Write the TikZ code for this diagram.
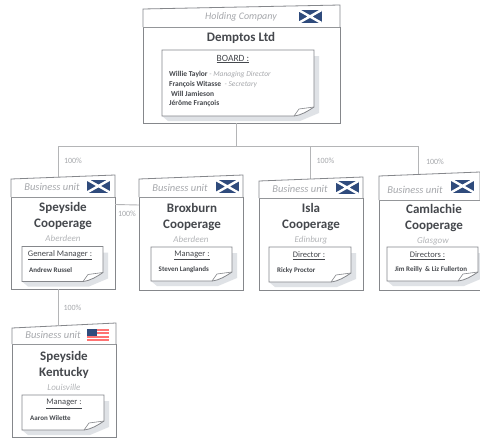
\documentclass[tikz,border=0pt]{standalone}
\usepackage{fontspec}
\setmainfont{Carlito}
\usepackage{tikz}
\usetikzlibrary{positioning}

\definecolor{navy}{HTML}{2F4B7C}
\definecolor{inktext}{HTML}{45484D}
\definecolor{soft}{HTML}{A6A8AC}
\definecolor{edgeline}{HTML}{85878B}
\definecolor{linkline}{HTML}{B4B5B7}
\definecolor{noteshade}{HTML}{DFE2E6}

\tikzset{
  card/.style={draw=edgeline,line width=0.8pt,fill=white,inner sep=0pt,outer sep=0pt},
  notebox/.style={inner sep=0pt,outer sep=0pt},
  link/.style={draw=linkline,line width=0.9pt},
  headtxt/.style={text=soft,font=\fontsize{10.5}{12}\selectfont\itshape,inner sep=0pt},
  title/.style={text=inktext,font=\fontsize{13}{16}\selectfont\bfseries,align=center,inner sep=0pt},
  city/.style={text=soft!85,font=\fontsize{9}{11}\selectfont\itshape,inner sep=0pt},
  notehead/.style={text=inktext,font=\fontsize{8.5}{10}\selectfont,inner sep=0pt},
  who/.style={text=inktext,font=\fontsize{7}{9}\selectfont\bfseries,inner sep=0pt},
  pct/.style={text=soft,font=\fontsize{8}{10}\selectfont,inner sep=0pt},
  flagscot/.pic={
    \fill[navy] (-11.5,-6.5) rectangle (11.5,6.5);
    \draw[white,line width=2.4pt] (-11.5,-6.5) -- (11.5,6.5) (-11.5,6.5) -- (11.5,-6.5);
  },
  flagusa/.pic={
    \fill[white] (-11,-6) rectangle (11,6);
    \foreach \s in {0,2,4,6}
      \fill[red!55!white] (-11,-6+\s*1.72) rectangle (11,-6+\s*1.72+1.72);
    \fill[navy] (-11,-6) rectangle (-1,0.5);
  }
}

% tab above a card: left rise, right rise
\newcommand{\headtab}[3]{
  \draw[card] (#1.north west) -- ([yshift=#2pt]#1.north west) -- ([yshift=#3pt]#1.north east) -- (#1.north east);
}
% name, centre x, centre y, width, height
\newcommand{\notecard}[5]{
  \node[notebox,minimum width=#4pt,minimum height=#5pt] (#1) at (#2,#3) {};
  \fill[noteshade] ([xshift=6pt,yshift=-5pt]#1.south west) -- ([xshift=-14pt,yshift=-5pt]#1.south east)
    -- ([xshift=5pt,yshift=3pt]#1.south east) -- ([xshift=5pt,yshift=-6pt]#1.north east)
    -- ([yshift=-6pt]#1.north east) -- (#1.south west) -- cycle;
  \draw[card] (#1.north west) -- (#1.north east) -- ([yshift=9pt]#1.south east)
    .. controls ([xshift=-6pt,yshift=5pt]#1.south east) and ([xshift=-12pt,yshift=1pt]#1.south east) .. ([xshift=-20pt]#1.south east)
    -- (#1.south west) -- cycle;
  \draw[edgeline,line width=0.6pt] ([xshift=-20pt]#1.south east) -- ([xshift=-15pt,yshift=7pt]#1.south east) -- ([yshift=9pt]#1.south east);
}

\begin{document}
\begin{tikzpicture}[x=1pt,y=-1pt]
    \useasboundingbox (0,0) rectangle (480,439);
    \fill[white] (0,0) rectangle (480,439);

    \coordinate (hub) at (236,146);
    \coordinate (busleft) at (58,146);
    \coordinate (busisla) at (310,146);
    \coordinate (busright) at (418,146);
    \coordinate (speytop) at (58,177);
    \coordinate (islatop) at (310,179);
    \coordinate (camtop) at (418,174);
    \coordinate (kentop) at (58,325);

    % holding
    \node[card,minimum width=197pt,minimum height=96pt] (holding) at (241.5,75) {};
    \headtab{holding}{18}{22}
    \draw[link] (holding.south -| hub) -- (hub);
    \draw[link] (busleft) -- (busright);
    \draw[link] (busleft) -- (speytop);
    \draw[link] (busisla) -- (islatop);
    \draw[link] (busright) -- (camtop);
    \pic at (310,16.5) {flagscot};
    \node[headtxt,font=\fontsize{10}{12}\selectfont\itshape] (holdinghead) at (241,17) {Holding Company};
    \node[title] (holdingname) at (241,38) {Demptos Ltd};
    \notecard{board}{238}{83}{152}{66}
    \node[notehead,font=\fontsize{9.5}{11}\selectfont] (boardhead) at (233,59) {\underline{BOARD :}};
    \node[who,font=\fontsize{7.5}{9}\selectfont\bfseries,anchor=west] (willie) at (169,74.5) {Willie Taylor {\mdseries\itshape\color{soft}- Managing Director}};
    \node[who,font=\fontsize{7.5}{9}\selectfont\bfseries,anchor=west] (francois) at (169,84.5) {François Witasse {\mdseries\itshape\color{soft}\ - Secretary}};
    \node[who,font=\fontsize{7.5}{9}\selectfont\bfseries,anchor=west] (will) at (171,93.5) {Will Jamieson};
    \node[who,font=\fontsize{7.5}{9}\selectfont\bfseries,anchor=west] (jerome) at (169,103) {Jérôme François};

    % business units
    \node[card,minimum width=104pt,minimum height=92pt] (speyside) at (63,243) {};
    \headtab{speyside}{18}{22}
    \pic at (98.5,186) {flagscot};
    \node[headtxt] (speysidehead) at (52,187) {Business unit};
    \node[title] (speysidename) at (63,216) {Speyside\\Cooperage};
    \node[city] (speysidecity) at (63,238) {Aberdeen};
    \notecard{speysidenote}{62.5}{264}{81}{35}
    \node[notehead] (speysiderole) at (60,255) {\underline{General Manager :}};
    \node[who,anchor=west] (speysidewho) at (29,270) {Andrew Russel};

    \node[card,minimum width=104pt,minimum height=93pt] (broxburn) at (191,243.5) {};
    \headtab{broxburn}{18}{22}
    \pic at (227.5,186.5) {flagscot};
    \node[headtxt] (broxburnhead) at (180,188) {Business unit};
    \node[title] (broxburnname) at (192,217) {Broxburn\\Cooperage};
    \node[city] (broxburncity) at (191,239) {Aberdeen};
    \notecard{broxburnnote}{191.5}{264}{81}{34}
    \node[notehead] (broxburnrole) at (192,255.5) {\underline{Manager :}};
    \node[who,anchor=west] (broxburnwho) at (158.5,270) {Steven Langlands};

    \node[card,minimum width=104pt,minimum height=92pt] (isla) at (311,244) {};
    \headtab{isla}{17}{21}
    \pic at (347,187.5) {flagscot};
    \node[headtxt] (islahead) at (300,189) {Business unit};
    \node[title] (islaname) at (311,217) {Isla\\Cooperage};
    \node[city] (islacity) at (311,240) {Edinburg};
    \notecard{islanote}{310}{264.5}{82}{35}
    \node[notehead] (islarole) at (309,256) {\underline{Director :}};
    \node[who,anchor=west] (islawho) at (277,271) {Ricky Proctor};

    \node[card,minimum width=101pt,minimum height=90pt] (camlachie) at (429.5,245) {};
    \headtab{camlachie}{24}{28}
    \pic at (462.5,186) {flagscot};
    \node[headtxt] (camlachiehead) at (415,190) {Business unit};
    \node[title] (camlachiename) at (434,218) {Camlachie\\Cooperage};
    \node[city] (camlachiecity) at (433,241) {Glasgow};
    \notecard{camlachienote}{432.5}{264}{91}{34}
    \node[notehead] (camlachierole) at (427.5,255.5) {\underline{Directors :}};
    \node[who] (camlachiewho) at (431,270) {Jim Reilly \ \& Liz Fullerton};

    \node[card,minimum width=104pt,minimum height=93pt] (kentucky) at (64,390.5) {};
    \headtab{kentucky}{16}{21}
    \pic at (98,335) {flagusa};
    \node[headtxt] (kentuckyhead) at (53,335) {Business unit};
    \node[title] (kentuckyname) at (64,364.5) {Speyside\\Kentucky};
    \node[city] (kentuckycity) at (64,387) {Louisville};
    \notecard{kentuckynote}{63}{412.5}{82}{35}
    \node[notehead] (kentuckyrole) at (64,404) {\underline{Manager :}};
    \node[who,anchor=west] (kentuckywho) at (30,418) {Aaron Wilette};

    % links
    \draw[link] ([yshift=38.5pt]speyside.east) -- ([yshift=38.5pt]broxburn.west);
    \draw[link] (speyside.south -| kentop) -- (kentop);
    \node[pct] (pcta) at (73,160.5) {100\%};
    \node[pct] (pctb) at (127,213.5) {100\%};
    \node[pct] (pctc) at (325.5,160.5) {100\%};
    \node[pct] (pctd) at (435,161.5) {100\%};
    \node[pct] (pcte) at (72.5,308) {100\%};
\end{tikzpicture}
\end{document}
